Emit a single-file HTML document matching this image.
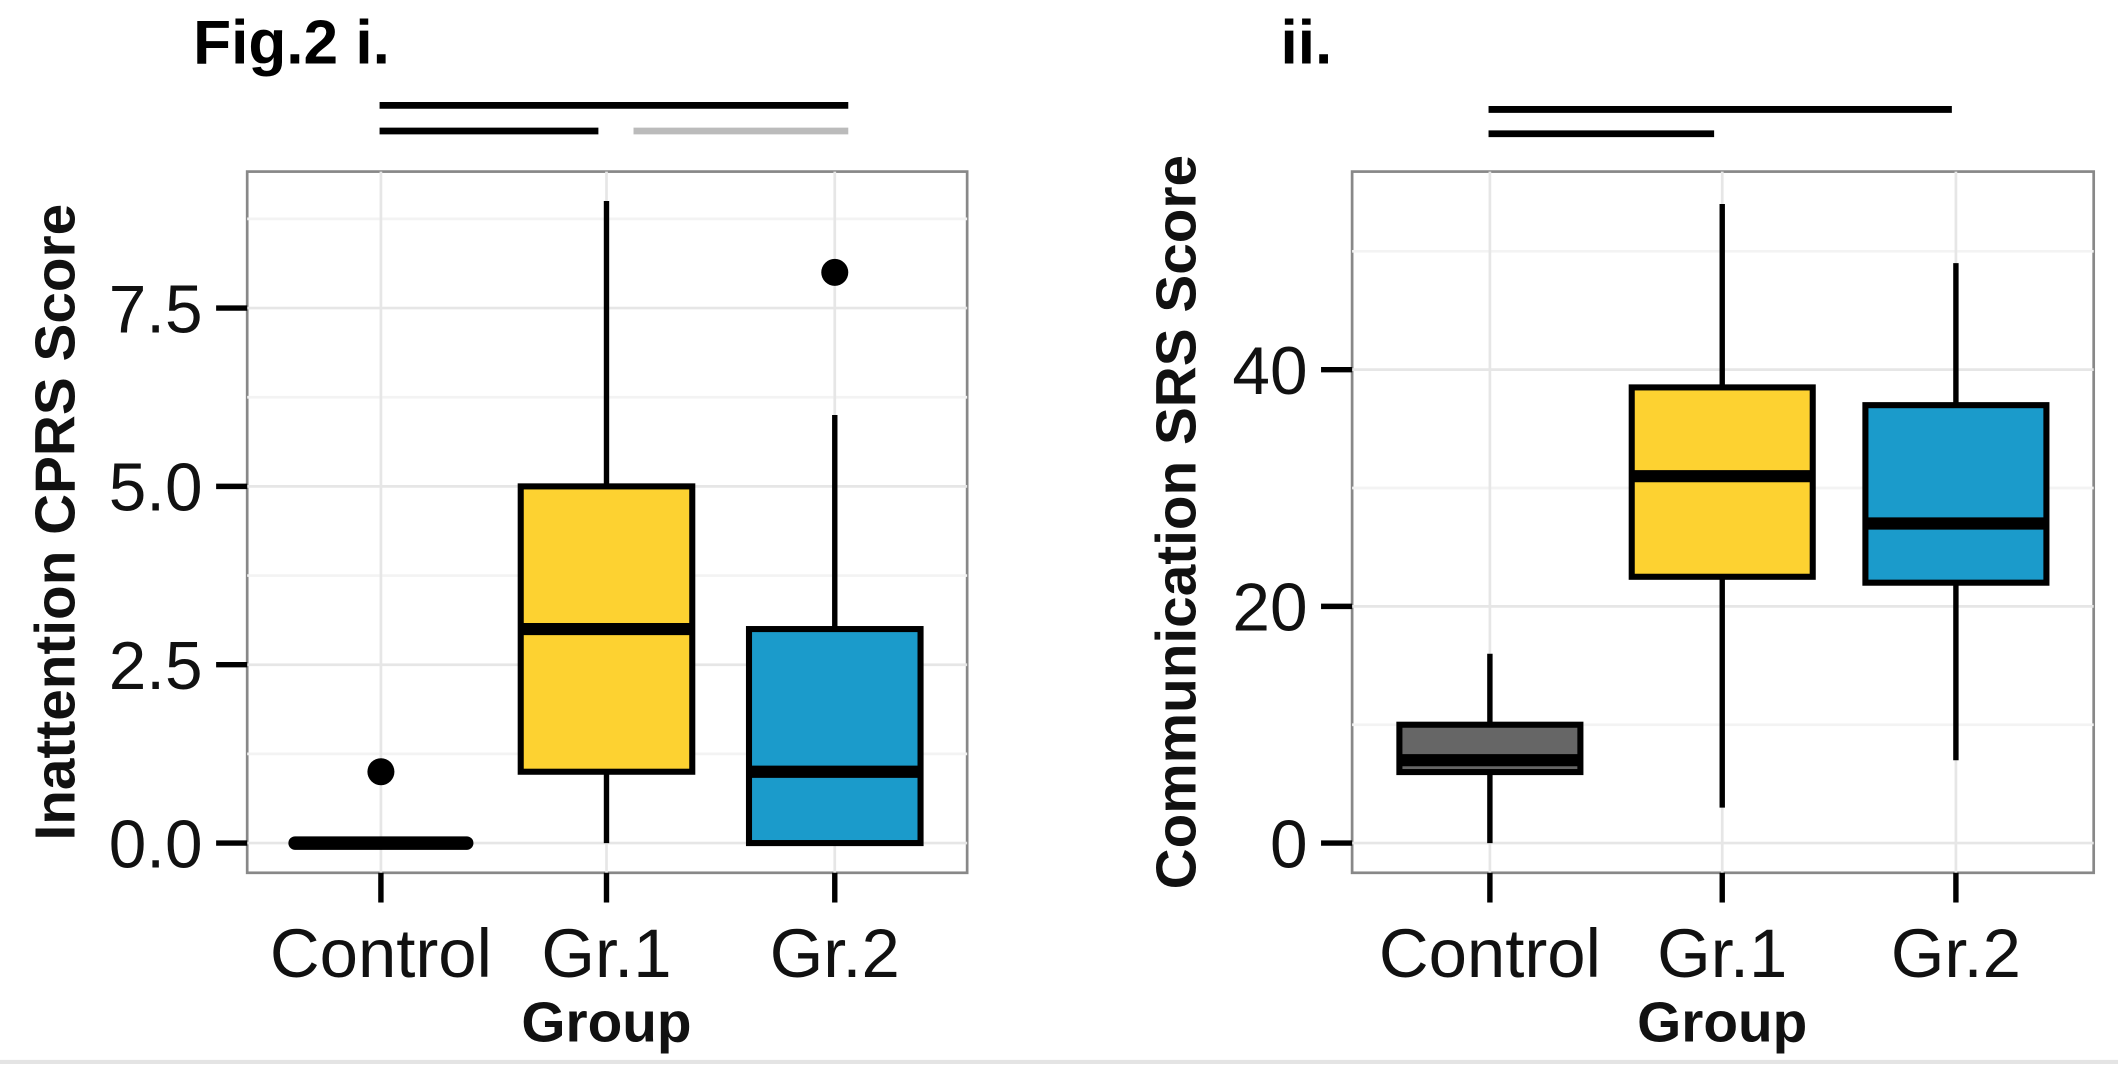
<!DOCTYPE html>
<html><head><meta charset="utf-8"><style>
html,body{margin:0;padding:0;background:#fff;}
svg{display:block;}
text{font-family:"Liberation Sans",sans-serif;}
</style></head><body>
<svg id="fig" width="2118" height="1066" viewBox="0 0 1568 789" preserveAspectRatio="none" xmlns="http://www.w3.org/2000/svg">
<rect x="0" y="0" width="1568" height="789" fill="#fff"/>
<line x1="0" y1="786" x2="1568" y2="786" stroke="#e4e4e4" stroke-width="3"/>
<text x="143" y="47" font-size="46" font-weight="bold">Fig.2 i.</text>
<text x="948" y="47" font-size="46" font-weight="bold">ii.</text>
<g id="p1"></g><g id="p2"></g>
</svg>
<script>
const categories = ["Control","Gr.1","Gr.2"];
const fills = ["#666666","#fdd231","#1b9bcb"];
// Panel i: Inattention CPRS
const p1Min = [0,0,0];
const p1Q1 = [0,1,0];
const p1Med = [0,3,1];
const p1Q3 = [0,5,3];
const p1Max = [0,9,6];
const p1Outliers = [[1],[],[8]];
const p1Ticks = [0,2.5,5,7.5];
const p1TickLabels = ["0.0","2.5","5.0","7.5"];
const p1Minor = [1.25,3.75,6.25,8.75];
// Panel ii: Communication SRS
const p2Min = [0,3,7];
const p2Q1 = [6,22.5,22];
const p2Med = [7,31,27];
const p2Q3 = [10,38.5,37];
const p2Max = [16,54,49];
const p2Outliers = [[],[],[]];
const p2Ticks = [0,20,40];
const p2TickLabels = ["0","20","40"];
const p2Minor = [10,30,50];
// significance bars: [fromIndex, toIndex, color]
const p1Sig = [[0,2,"#000"],[0,1,"#000"],[1,2,"#bbb"]];
const p2Sig = [[0,2,"#000"],[0,1,"#000"]];

const NS="http://www.w3.org/2000/svg";
function mk(parent,tag,attrs){const e=document.createElementNS(NS,tag);for(const k in attrs)e.setAttribute(k,attrs[k]);parent.appendChild(e);return e;}

function panel(g,cfg){
  const {L,R,T,B,y0px,pxPerUnit,xs,boxW,ticks,tickLabels,minor,mn,q1,md,q3,mx,outs,sig,sigY,title,titleX,idx}=cfg;
  const y=v=>y0px-v*pxPerUnit;
  const x=i=>xs[i];
  let e;
  e=mk(g,"rect",{x:L,y:T,width:R-L,height:B-T,fill:"#fff",stroke:"#888",'stroke-width':2});
  
  
  minor.forEach(v=>{e=mk(g,"line",{x1:L,x2:R,y1:y(v),y2:y(v),stroke:"#f3f3f3","stroke-width":2});
    
    });
  ticks.forEach((v,k)=>{
    e=mk(g,"line",{x1:L,x2:R,y1:y(v),y2:y(v),stroke:"#e6e6e6","stroke-width":2});
    
    
    e=mk(g,"line",{x1:L-23,x2:L,y1:y(v),y2:y(v),stroke:"#000","stroke-width":4});
    
    
    e=mk(g,"text",{x:L-33,y:y(v)+18,'font-size':50,'text-anchor':'end',fill:'#111'});e.textContent=tickLabels[k];
    
    
  });
  categories.forEach((c,i)=>{
    e=mk(g,"line",{x1:x(i),x2:x(i),y1:T,y2:B,stroke:"#e6e6e6","stroke-width":2});
    
    
    e=mk(g,"line",{x1:x(i),x2:x(i),y1:B,y2:B+22,stroke:"#000","stroke-width":4});
    
    
    e=mk(g,"text",{x:x(i),y:723,'font-size':51,'text-anchor':'middle',fill:'#111'});e.textContent=c;
    
    
  });
  categories.forEach((c,i)=>{
    const bx=x(i)-boxW/2;
    if(q3[i]===q1[i]){
      e=mk(g,"line",{x1:bx,x2:bx+boxW,y1:y(md[i]),y2:y(md[i]),stroke:"#000","stroke-width":10,"stroke-linecap":"round"});
      
      
    } else {
      e=mk(g,"line",{x1:x(i),x2:x(i),y1:y(mx[i]),y2:y(mn[i]),stroke:"#000","stroke-width":4});
      
      
      e=mk(g,"rect",{x:bx,y:y(q3[i]),width:boxW,height:y(q1[i])-y(q3[i]),fill:fills[i],stroke:"#000","stroke-width":4.5});
      
      
      e=mk(g,"line",{x1:bx,x2:bx+boxW,y1:y(md[i]),y2:y(md[i]),stroke:"#000","stroke-width":9});
      
      
    }
    outs[i].forEach(v=>{e=mk(g,"circle",{cx:x(i),cy:y(v),r:10,fill:"#000"});
      
      });
  });
  sig.forEach((s,k)=>{
    const xa=(s[0]===1)? x(s[0])+20 : x(s[0])-1;
    const xb=(s[1]===1)? x(s[1])-6 : x(s[1])+(idx==='ii'?-3:10);
    e=mk(g,"line",{x1:xa,x2:xb,y1:sigY[k],y2:sigY[k],stroke:s[2],"stroke-width":5});
    
    
  });
  e=mk(g,"text",{x:0,y:0,'font-size':42,'font-weight':'bold','text-anchor':'middle',transform:`translate(${titleX},${(T+B)/2}) rotate(-90)`,fill:'#111'});
  e.textContent=title;
  
  
  e=mk(g,"text",{x:x(1),y:771,'font-size':42,'font-weight':'bold','text-anchor':'middle',fill:'#111'});e.textContent="Group";
  
  
}
panel(document.getElementById('p1'),{idx:'i',L:183,R:716,T:127,B:646,y0px:624,pxPerUnit:52.8,xs:[282,449,618],boxW:127,
  ticks:p1Ticks,tickLabels:p1TickLabels,minor:p1Minor,mn:p1Min,q1:p1Q1,md:p1Med,q3:p1Q3,mx:p1Max,outs:p1Outliers,sig:p1Sig,sigY:[78,97,97],
  title:"Inattention CPRS Score",titleX:55});
panel(document.getElementById('p2'),{idx:'ii',L:1001,R:1550,T:127,B:646,y0px:624,pxPerUnit:8.76,xs:[1103,1275,1448],boxW:134,
  ticks:p2Ticks,tickLabels:p2TickLabels,minor:p2Minor,mn:p2Min,q1:p2Q1,md:p2Med,q3:p2Q3,mx:p2Max,outs:p2Outliers,sig:p2Sig,sigY:[81,99],
  title:"Communication SRS Score",titleX:885});
</script>
</body></html>
